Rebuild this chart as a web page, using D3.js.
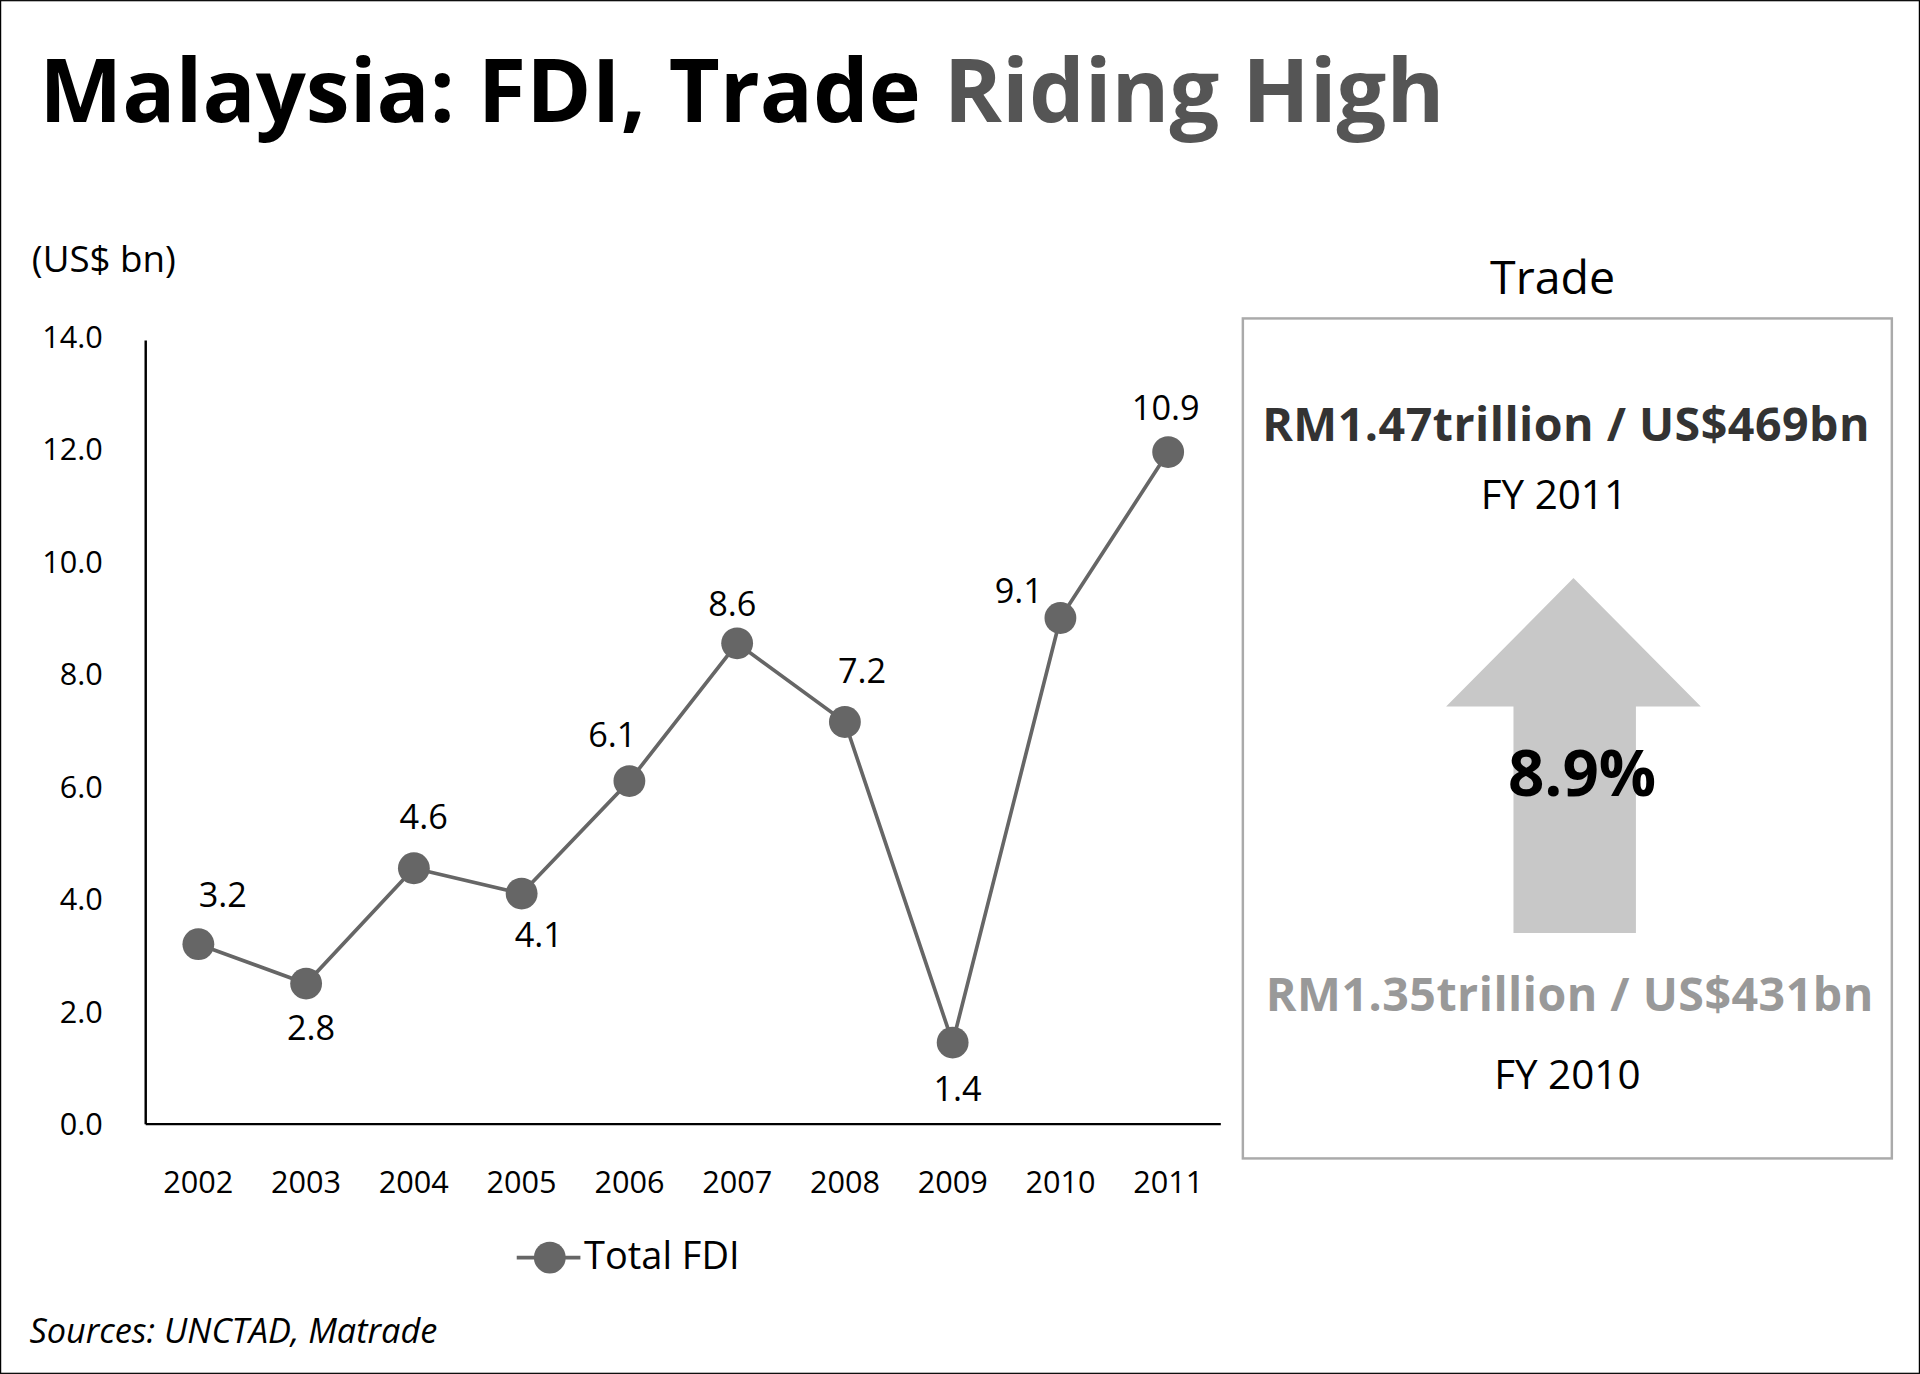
<!DOCTYPE html>
<html><head><meta charset="utf-8">
<script src="https://cdn.jsdelivr.net/npm/d3@7"></script>
<style>body{margin:0;background:#fff}svg{display:block}</style>
</head><body>
<script>
const years = ["2002","2003","2004","2005","2006","2007","2008","2009","2010","2011"];
const fdiValues = [3.2,2.5,4.55,4.1,6.1,8.55,7.15,1.45,9.0,11.95];
const fdiLabels = ["3.2","2.8","4.6","4.1","6.1","8.6","7.2","1.4","9.1","10.9"];
const yTicks = [0,2,4,6,8,10,12,14];
const labelOffsets = [[20,-40],[4,36],[8,-42],[14,34],[-14,-38],[-4,-32],[14,-42],[4,38],[-34,-22],[-2,-36]];

const svg = d3.select("body").append("svg").attr("width",1920).attr("height",1374)
  .attr("viewBox","0 0 1568 1122");
const F = "'Open Sans','Noto Sans',sans-serif";
svg.append("rect").attr("x",0.5).attr("y",0.5).attr("width",1567).attr("height",1121).attr("fill","#fff").attr("stroke","#000");

const title = svg.append("text").attr("x",32).attr("y",100).attr("font-family",F).attr("font-weight",700)
  .attr("font-size",72).attr("letter-spacing",0).attr("fill","#000");
title.append("tspan").text("Malaysia: FDI, Trade ");
title.append("tspan").attr("fill","#555").text("Riding High");

svg.append("text").attr("x",26).attr("y",222).attr("font-family",F).attr("font-size",30).text("(US$ bn)");

const x = d3.scalePoint().domain(years).range([162,954]);
const y = d3.scaleLinear().domain([0,14]).range([918,275]);

svg.append("line").attr("x1",119).attr("x2",119).attr("y1",278).attr("y2",918).attr("stroke","#000").attr("stroke-width",2);
svg.append("line").attr("x1",119).attr("x2",997).attr("y1",918).attr("y2",918).attr("stroke","#000").attr("stroke-width",2);

svg.selectAll(".yt").data(yTicks).join("text").attr("x",84).attr("y",d=>y(d)+9)
  .attr("text-anchor","end").attr("font-family",F).attr("font-size",25).text(d=>d.toFixed(1));
svg.selectAll(".xt").data(years).join("text").attr("x",d=>x(d)).attr("y",974)
  .attr("text-anchor","middle").attr("font-family",F).attr("font-size",25).text(d=>d);

const pts = years.map((yr,i)=>({yr,v:fdiValues[i],l:fdiLabels[i],o:labelOffsets[i]}));
svg.append("path").datum(pts).attr("d",d3.line().x(d=>x(d.yr)).y(d=>y(d.v)))
  .attr("fill","none").attr("stroke","#666").attr("stroke-width",3);
svg.selectAll(".pt").data(pts).join("circle").attr("cx",d=>x(d.yr)).attr("cy",d=>y(d.v)).attr("r",13).attr("fill","#666");
svg.selectAll(".pl").data(pts).join("text").attr("x",d=>x(d.yr)+d.o[0]).attr("y",d=>y(d.v)+d.o[1]+10)
  .attr("text-anchor","middle").attr("font-family",F).attr("font-size",28).text(d=>d.l);

svg.append("line").attr("x1",422).attr("x2",474).attr("y1",1027).attr("y2",1027).attr("stroke","#666").attr("stroke-width",3);
svg.append("circle").attr("cx",449).attr("cy",1027).attr("r",13).attr("fill","#666");
svg.append("text").attr("x",477).attr("y",1036).attr("font-family",F).attr("font-size",31).text("Total FDI");

svg.append("text").attr("x",24).attr("y",1097).attr("font-family",F).attr("font-style","italic").attr("font-size",28).text("Sources: UNCTAD, Matrade");

// Trade panel
svg.append("text").attr("x",1268).attr("y",240).attr("text-anchor","middle").attr("font-family",F).attr("font-size",38).text("Trade");
svg.append("rect").attr("x",1015).attr("y",260).attr("width",530).attr("height",686).attr("fill","none").attr("stroke","#aaa").attr("stroke-width",2);
svg.append("path").attr("d","M1285,472 L1389,577 L1336,577 L1336,762 L1236,762 L1236,577 L1181,577 Z").attr("fill","#c8c8c8");
svg.append("text").attr("x",1279).attr("y",360).attr("text-anchor","middle").attr("font-family",F).attr("font-weight",700).attr("font-size",38).attr("letter-spacing",0.4).attr("fill","#333").text("RM1.47trillion / US$469bn");
svg.append("text").attr("x",1269).attr("y",416).attr("text-anchor","middle").attr("font-family",F).attr("font-size",33).text("FY 2011");
svg.append("text").attr("x",1292).attr("y",650).attr("text-anchor","middle").attr("font-family",F).attr("font-weight",700).attr("font-size",52).text("8.9%");
svg.append("text").attr("x",1282).attr("y",826).attr("text-anchor","middle").attr("font-family",F).attr("font-weight",700).attr("font-size",38).attr("letter-spacing",0.4).attr("fill","#999").text("RM1.35trillion / US$431bn");
svg.append("text").attr("x",1280).attr("y",889).attr("text-anchor","middle").attr("font-family",F).attr("font-size",33).text("FY 2010");
</script>
</body></html>
